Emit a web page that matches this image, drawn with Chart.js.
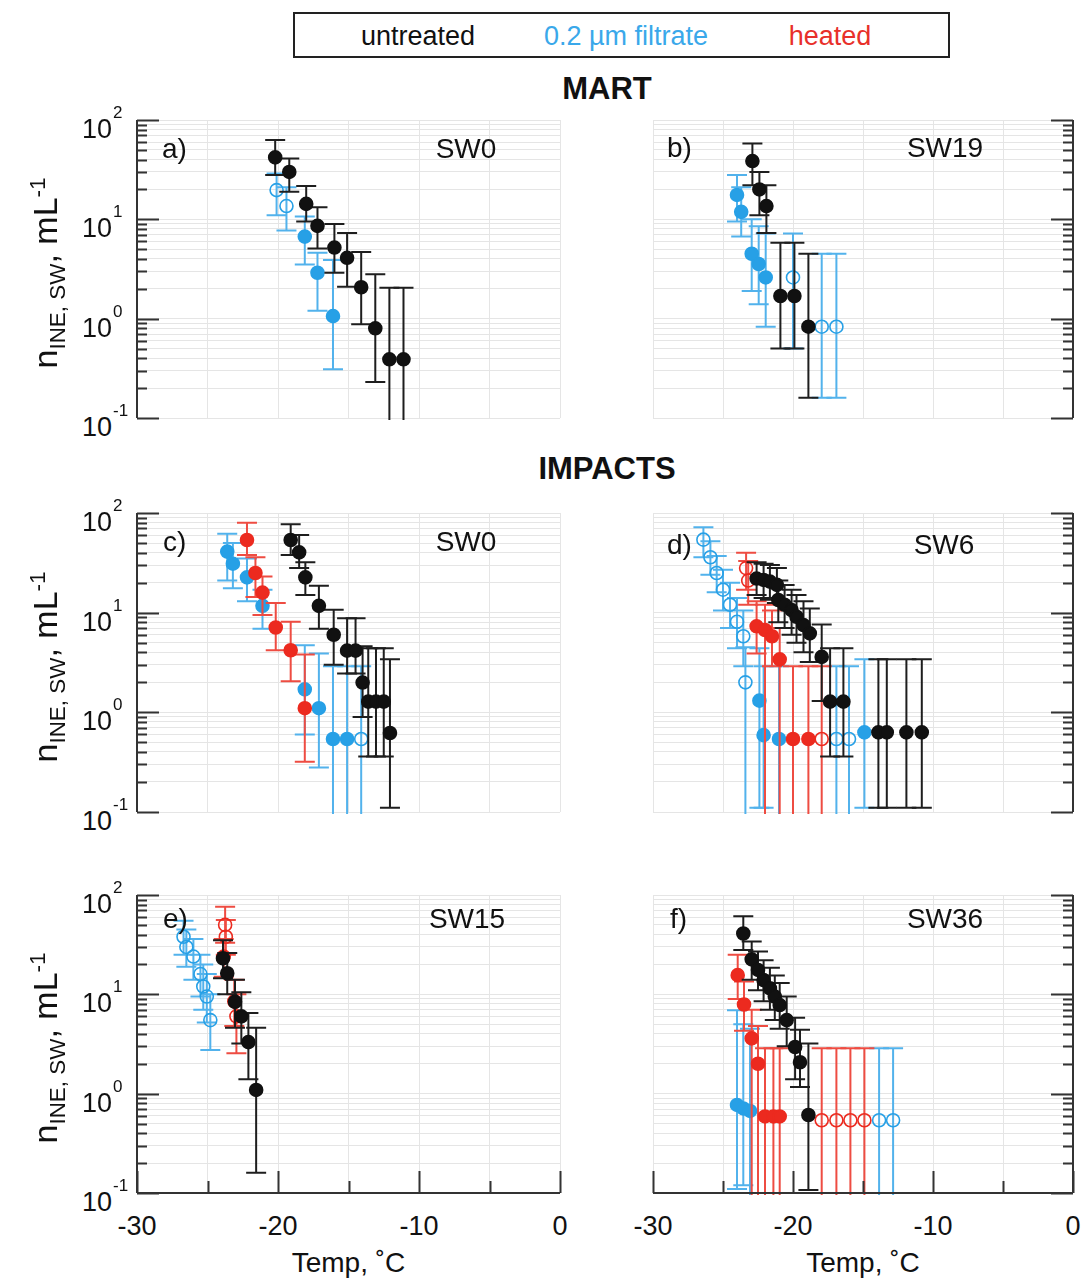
<!DOCTYPE html>
<html>
<head>
<meta charset="utf-8">
<script src="https://cdn.jsdelivr.net/npm/chart.js@4.4.1/dist/chart.umd.min.js"></script>
<style>
  body { margin: 0; background: #fff; width: 1087px; height: 1285px; position: relative; overflow: hidden;
         font-family: "Liberation Sans", Arial, Helvetica, sans-serif; color: #111; }
  .t { position: absolute; white-space: nowrap; line-height: 1; }
  canvas { position: absolute; }
  #legend { position: absolute; left: 293px; top: 12px; width: 653px; height: 42px; border: 2px solid #222; }
  sub, sup { font-size: 0.66em; line-height: 0; }
</style>
</head>
<body>
<div id="legend"></div>
<script>
// INP concentrations, rows are [temp (°C), n (mL-1), lower bound, upper bound]
// index lists mark hollow symbols
const aUntreated = [[-20.2,42,28,63],[-19.2,30,19,41],[-18.0,14.3,9.5,21.6],[-17.2,8.6,5.1,13.2],[-16.0,5.2,2.9,9.0],
  [-15.1,4.1,2.1,7.3],[-14.1,2.07,0.88,4.7],[-13.1,0.8,0.23,2.8],[-12.1,0.39,0.01,2.05],[-11.1,0.39,0.01,2.05]];
const aFiltrate = [[-20.1,19.7,11,29],[-19.4,13.6,7.7,21],[-18.1,6.7,3.5,10.7],[-17.2,2.9,1.2,4.6],[-16.1,1.06,0.31,3.9]];
const aFiltrateOpen = [0, 1];

const bUntreated = [[-22.9,38.6,22,58],[-22.4,20,11,30],[-21.9,13.6,7.3,22],[-20.9,1.69,0.5,5.8],[-19.9,1.69,0.5,5.8],[-18.9,0.83,0.16,4.5]];
const bFiltrate = [[-24.0,17.6,9.5,28],[-23.7,11.9,6.7,21],[-22.95,4.5,1.9,10],[-22.45,3.55,1.4,8.5],[-21.95,2.6,0.83,7.2],
  [-20.0,2.6,0.5,7.2],[-17.95,0.83,0.16,4.5],[-16.9,0.83,0.16,4.5]];
const bFiltrateOpen = [5, 6, 7];

const cUntreated = [[-19.1,53.6,38,77],[-18.5,40.3,28,60],[-18.06,22.6,15,32],[-17.1,11.7,6.9,18.6],[-16.05,6.0,3.0,10.7],
  [-15.1,4.16,2.45,8.8],[-14.5,4.16,2.45,8.8],[-14.0,1.99,0.9,4.6],[-13.6,1.28,0.36,4.4],[-13.05,1.28,0.36,4.4],
  [-12.5,1.28,0.36,4.4],[-12.06,0.62,0.11,3.4]];
const cHeated = [[-22.2,53.6,38,80],[-21.6,25,14.4,36],[-21.1,15.9,9.5,23],[-20.16,7.1,4.2,12.5],[-19.1,4.2,2.05,8.1],[-18.1,1.1,0.32,3.8]];
const cFiltrate = [[-23.6,41,21,62],[-23.2,31,17.6,50],[-22.2,22.6,13,35],[-21.1,11.7,6.9,17],[-18.1,1.7,0.6,4.7],
  [-17.1,1.1,0.28,3.9],[-16.1,0.54,0.01,2.9],[-15.1,0.54,0.01,2.9],[-14.1,0.54,0.01,2.9]];
const cFiltrateOpen = [8];

const dUntreated = [[-22.6,22,15,32],[-22.1,21.3,14,31],[-21.65,20.5,13.5,30],[-21.15,19,12.5,28],[-21.05,13.4,8,21],
  [-20.6,12,7,19],[-20.1,10.6,6,17],[-19.75,9.1,5,15],[-19.25,7.5,4,13],[-18.8,6.2,3.2,11],[-17.95,3.6,1.3,7.6],
  [-17.35,1.28,0.36,4.4],[-16.4,1.28,0.36,4.4],[-13.9,0.63,0.11,3.4],[-13.3,0.63,0.11,3.4],[-11.9,0.63,0.11,3.4],[-10.8,0.63,0.11,3.4]];
const dHeated = [[-23.35,28,17,40],[-23.2,21,12,33],[-22.6,7.3,3.9,13],[-22.0,6.7,0.01,12],[-21.5,5.8,2.9,10.5],
  [-20.95,3.4,0.01,7],[-20.0,0.54,0.01,2.9],[-18.9,0.54,0.01,2.9],[-17.95,0.54,0.01,2.9]];
const dHeatedOpen = [0, 1, 8];
const dFiltrate = [[-26.4,54,36,72],[-25.9,36,24,52],[-25.45,25,16,37],[-25.0,17,10.5,27],[-24.5,12,7,20],[-24.0,8.1,4.4,14],
  [-23.55,5.8,2.9,10.5],[-23.4,2.0,0.01,4.5],[-22.4,1.31,0.11,4.4],[-22.1,0.59,0.11,2.9],[-21.0,0.54,0.01,2.9],
  [-16.9,0.54,0.01,2.9],[-16.0,0.54,0.01,2.9],[-14.9,0.63,0.11,3.4]];
const dFiltrateOpen = [0, 1, 2, 3, 4, 5, 6, 7, 11, 12];

const eUntreated = [[-23.9,23,14.5,35],[-23.6,16.3,10,26],[-23.05,8.4,4.6,14],[-22.6,6.0,3.2,10.5],[-22.1,3.3,1.4,6.5],[-21.55,1.09,0.16,4.6]];
const eHeated = [[-23.75,50,33,76],[-23.7,38,25,56],[-23.85,24,15,36],[-23.1,8.5,4.8,14],[-22.95,6.0,2.55,10]];
const eHeatedOpen = [0, 1, 4];
const eFiltrate = [[-26.7,38,25,55],[-26.5,30,19,45],[-26.0,24,14,36],[-25.5,16,9.5,25],[-25.3,12,7,20],[-25.05,9.5,5.2,16],[-24.8,5.5,2.75,10]];
const eFiltrateOpen = [0, 1, 2, 3, 4, 5, 6];

const fUntreated = [[-23.55,41,28,61],[-22.95,22.5,14,34],[-22.5,17.6,11,27],[-22.1,13.9,8.5,22],[-21.65,11.5,7,18.5],
  [-21.3,9.5,5.5,15.5],[-20.95,7.8,4.5,13],[-20.45,5.5,3,9.5],[-19.85,2.95,1.4,5.8],[-19.5,2.07,1.17,4.4],[-18.9,0.61,0.107,3.2]];
const fHeated = [[-23.95,15.6,9,25],[-23.5,7.9,4.3,13.5],[-22.95,3.6,0.01,7],[-22.5,2.0,0.01,4.8],[-22.0,0.59,0.01,2.86],
  [-21.4,0.59,0.01,2.86],[-20.95,0.59,0.01,2.86],[-17.95,0.54,0.01,2.86],[-16.9,0.54,0.01,2.86],[-15.9,0.54,0.01,2.86],[-14.9,0.54,0.01,2.86]];
const fHeatedOpen = [7, 8, 9, 10];
const fFiltrate = [[-24.0,0.77,0.11,6.9],[-23.55,0.71,0.12,5],[-23.07,0.67,0.01,4.5],[-13.85,0.54,0.01,2.86],[-12.85,0.54,0.01,2.86]];
const fFiltrateOpen = [3, 4];

const xTickLabels = [-30, -20, -10, 0];
const yDecades = [-1, 0, 1, 2];
const treatments = ['untreated', '0.2 µm filtrate', 'heated'];

const COL = {
  untreated: { mark: '#111111', bar: '#1e1e1e', text: '#111111' },
  filtrate:  { mark: '#27a0e6', bar: '#52b2ec', text: '#3aa8ea' },
  heated:    { mark: '#ec2a1f', bar: '#ee4c42', text: '#e8302a' }
};

function txt(html, x, y, css, anchor) {
  const d = document.createElement('div');
  d.className = 't';
  d.innerHTML = html;
  Object.assign(d.style, css || {});
  d.style.left = x + 'px';
  d.style.top = y + 'px';
  const tx = anchor === 'left' ? '0' : anchor === 'right' ? '-100%' : '-50%';
  d.style.transform = `translate(${tx}, -50%)` + (css && css.extra ? ' ' + css.extra : '');
  document.body.appendChild(d);
  return d;
}

// log ticks 1..9 per decade for grid lines
const logTicks = [];
for (let e = -1; e <= 1; e++) for (let m = 1; m <= 9; m++) logTicks.push(+(m * Math.pow(10, e)).toPrecision(2));
logTicks.push(100);

const errorBars = {
  id: 'errorBars',
  beforeDatasetDraw(chart, args) {
    const ds = chart.data.datasets[args.index];
    const xs = chart.scales.x, ys = chart.scales.y, a = chart.chartArea, ctx = chart.ctx;
    ctx.save();
    ctx.beginPath();
    ctx.rect(a.left - 12, a.top - 2, a.width + 24, a.height + 4);
    ctx.clip();
    ctx.strokeStyle = ds.barColor;
    ctx.lineWidth = 2;
    ds.data.forEach((p, i) => {
      const px = xs.getPixelForValue(p.x);
      const top = ys.getPixelForValue(ds.hi[i]);
      const bot = ys.getPixelForValue(ds.lo[i]);
      ctx.beginPath();
      ctx.moveTo(px, top); ctx.lineTo(px, bot);
      ctx.moveTo(px - 10, top); ctx.lineTo(px + 10, top);
      ctx.moveTo(px - 10, bot); ctx.lineTo(px + 10, bot);
      ctx.stroke();
    });
    ctx.restore();
  }
};

const frame = {
  id: 'frame',
  afterDraw(chart, args, opts) {
    const ctx = chart.ctx, a = chart.chartArea, ys = chart.scales.y, xs = chart.scales.x;
    ctx.save();
    ctx.strokeStyle = '#333';
    ctx.lineWidth = 2;
    const ax = opts.side === 'left' ? a.left : a.right;
    const dir = opts.side === 'left' ? 1 : -1;
    ctx.beginPath();
    ctx.moveTo(ax, a.top); ctx.lineTo(ax, a.bottom);
    logTicks.forEach(v => {
      const py = Math.round(ys.getPixelForValue(v)) + 0.5;
      const major = Math.abs(Math.log10(v) - Math.round(Math.log10(v))) < 1e-6;
      ctx.moveTo(ax, py); ctx.lineTo(ax + dir * (major ? 22 : 10), py);
    });
    if (opts.bottom) {
      ctx.moveTo(a.left, a.bottom); ctx.lineTo(a.right, a.bottom);
      for (let v = -30; v <= 0; v += 5) {
        const px = Math.round(xs.getPixelForValue(v)) + 0.5;
        ctx.moveTo(px, a.bottom); ctx.lineTo(px, a.bottom - (v % 10 === 0 ? 22 : 12));
      }
    }
    ctx.stroke();
    ctx.restore();
  }
};

function series(rows, open, c) {
  open = open || [];
  return {
    data: rows.map(r => ({ x: r[0], y: r[1] })),
    lo: rows.map(r => r[2]),
    hi: rows.map(r => r[3]),
    barColor: c.bar,
    showLine: false,
    pointRadius: 6.5,
    pointBorderWidth: 1.6,
    pointBorderColor: c.mark,
    pointBackgroundColor: rows.map((r, i) => open.includes(i) ? 'rgba(255,255,255,0)' : c.mark)
  };
}

const PAD = 14;
function panel(p) {
  const cv = document.createElement('canvas');
  cv.width = p.w + 2 * PAD;
  cv.height = p.h + 2 * PAD;
  cv.style.left = (p.left - PAD) + 'px';
  cv.style.top = (p.top - PAD) + 'px';
  document.body.appendChild(cv);
  const grid = { color: '#e5e5e5', lineWidth: 1, drawTicks: false };
  const chart = new Chart(cv, {
    type: 'scatter',
    data: { datasets: p.datasets },
    options: {
      responsive: false, animation: false, events: [],
      layout: { padding: PAD },
      plugins: { legend: { display: false }, tooltip: { enabled: false },
                 frame: { side: p.side, bottom: p.bottom } },
      scales: {
        x: { type: 'linear', min: -30, max: 0, ticks: { display: false, stepSize: 5 }, grid, border: { display: false } },
        y: { type: 'logarithmic', min: 0.1, max: 100, ticks: { display: false }, grid, border: { display: false },
             afterBuildTicks: s => { s.ticks = logTicks.map(v => ({ value: v })); } }
      }
    },
    plugins: [errorBars, frame]
  });

  // axis labels as text
  const a = chart.chartArea, ox = p.left - PAD, oy = p.top - PAD;
  if (p.side === 'left') {
    yDecades.forEach(e => {
      const py = oy + chart.scales.y.getPixelForValue(Math.pow(10, e));
      txt('10', ox + a.left - 25, py + 9, { fontSize: '27px' }, 'right');
      txt(String(e), ox + a.left - 24, py - 8, { fontSize: '17px' }, 'left');
    });
    txt('n<sub>INE, SW</sub>, mL<sup>-1</sup>', 45, oy + (a.top + a.bottom) / 2 + 4,
        { fontSize: '34px', extra: 'rotate(-90deg)' });
  }
  if (p.bottom) {
    xTickLabels.forEach(v => {
      txt(String(v), ox + chart.scales.x.getPixelForValue(v), oy + a.bottom + 33, { fontSize: '27px' });
    });
    txt('Temp, ˚C', ox + (a.left + a.right) / 2, oy + a.bottom + 70, { fontSize: '28px' });
  }
  txt(p.tag, p.tagX, p.tagY, { fontSize: '28px' }, 'left');
  txt(p.site, p.siteX, p.tagY, { fontSize: '28px' });
  return chart;
}

const L = { left: 137, w: 423 }, R = { left: 653, w: 420 };
const rows = [{ top: 120, h: 298 }, { top: 513, h: 299 }, { top: 895, h: 298 }];

panel({ ...L, ...rows[0], side: 'left', bottom: false, tag: 'a)', tagX: 162, tagY: 149, site: 'SW0', siteX: 466,
  datasets: [series(aUntreated, [], COL.untreated), series(aFiltrate, aFiltrateOpen, COL.filtrate)] });
panel({ ...R, ...rows[0], side: 'right', bottom: false, tag: 'b)', tagX: 667, tagY: 148, site: 'SW19', siteX: 945,
  datasets: [series(bUntreated, [], COL.untreated), series(bFiltrate, bFiltrateOpen, COL.filtrate)] });
panel({ ...L, ...rows[1], side: 'left', bottom: false, tag: 'c)', tagX: 163, tagY: 542, site: 'SW0', siteX: 466,
  datasets: [series(cUntreated, [], COL.untreated), series(cHeated, [], COL.heated), series(cFiltrate, cFiltrateOpen, COL.filtrate)] });
panel({ ...R, ...rows[1], side: 'right', bottom: false, tag: 'd)', tagX: 667, tagY: 545, site: 'SW6', siteX: 944,
  datasets: [series(dUntreated, [], COL.untreated), series(dHeated, dHeatedOpen, COL.heated), series(dFiltrate, dFiltrateOpen, COL.filtrate)] });
panel({ ...L, ...rows[2], side: 'left', bottom: true, tag: 'e)', tagX: 163, tagY: 919, site: 'SW15', siteX: 467,
  datasets: [series(eUntreated, [], COL.untreated), series(eHeated, eHeatedOpen, COL.heated), series(eFiltrate, eFiltrateOpen, COL.filtrate)] });
panel({ ...R, ...rows[2], side: 'right', bottom: true, tag: 'f)', tagX: 670, tagY: 919, site: 'SW36', siteX: 945,
  datasets: [series(fUntreated, [], COL.untreated), series(fHeated, fHeatedOpen, COL.heated), series(fFiltrate, fFiltrateOpen, COL.filtrate)] });

// legend and group titles
const legendX = [418, 626, 830];
const legendCol = [COL.untreated.text, COL.filtrate.text, COL.heated.text];
treatments.forEach((t, i) => txt(t, legendX[i], 36, { fontSize: '27px', color: legendCol[i] }));
txt('MART', 607, 88, { fontSize: '31px', fontWeight: 'bold' });
txt('IMPACTS', 607, 468, { fontSize: '31px', fontWeight: 'bold' });
</script>
</body>
</html>
